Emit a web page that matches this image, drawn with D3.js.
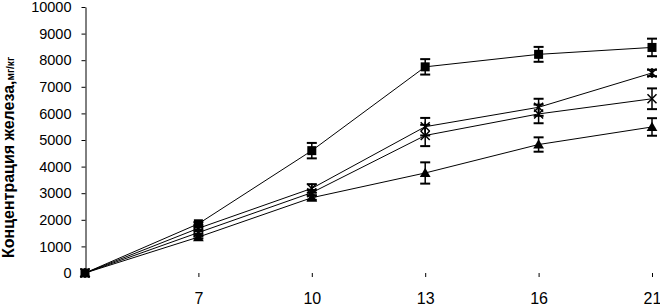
<!DOCTYPE html>
<html>
<head>
<meta charset="utf-8">
<script src="https://cdn.jsdelivr.net/npm/d3@7"></script>
<style>
  body { margin: 0; background: #fff; }
  text { font-family: "Liberation Sans", Arial, sans-serif; fill: #000; }
</style>
</head>
<body>
<div id="chart"></div>
<script>
// days (categories) and tick values
var days = ["0", "7", "10", "13", "16", "21"];
var yTicks = [0, 1000, 2000, 3000, 4000, 5000, 6000, 7000, 8000, 9000, 10000];

// series values
var squareVals = [0, 1850, 4600, 7750, 8220, 8480];
var squareErr  = [0, 60, 290, 290, 280, 330];
var starVals   = [0, 1680, 3180, 5500, 6230, 7520];
var starErr    = [0, 50, 160, 330, 320, 120];
var crossVals  = [0, 1520, 3020, 5170, 5980, 6550];
var crossErr   = [0, 50, 100, 400, 350, 390];
var triVals    = [0, 1350, 2830, 3760, 4830, 5490];
var triErr     = [0, 50, 80, 400, 270, 330];

var svgWidth = 660, svgHeight = 306;

var svg = d3.select("#chart").append("svg")
  .attr("width", svgWidth)
  .attr("height", svgHeight);

var x = d3.scalePoint().domain(days).range([85, 652]);
var y = d3.scaleLinear().domain([0, 10000]).range([273, 7]);

// y axis
var yAxis = svg.append("g")
  .attr("transform", "translate(85.5,0)")
  .call(d3.axisLeft(y).tickValues(yTicks).tickFormat(d3.format("d")).tickSize(4).tickPadding(10).tickSizeOuter(0));
yAxis.select(".domain").attr("stroke", "#000");
yAxis.selectAll(".tick line").attr("stroke", "#000");
yAxis.selectAll("text").style("font-size", "14.5px");

// x axis: no line, only short ticks and labels
var xAxis = svg.append("g")
  .attr("transform", "translate(0,273)")
  .call(d3.axisBottom(x).tickSize(4).tickPadding(16).tickFormat(function(d) { return d === "0" ? "" : d; }));
xAxis.select(".domain").remove();
xAxis.selectAll(".tick line").attr("stroke", "#000").attr("y1", 0);
xAxis.selectAll("text").style("font-size", "16px");

// y title
var title = svg.append("text")
  .attr("transform", "translate(14," + 258 + ") rotate(-90)")
  .attr("text-anchor", "start")
  .style("font-weight", "bold")
  .style("font-size", "16px");
title.append("tspan").text("Концентрация железа,");
title.append("tspan").style("font-size", "10px").text("мг/кг");

var series = [
  { vals: squareVals, err: squareErr, marker: "square" },
  { vals: starVals, err: starErr, marker: "star" },
  { vals: crossVals, err: crossErr, marker: "cross" },
  { vals: triVals, err: triErr, marker: "triangle" }
];

var line = d3.line()
  .x(function(d, i) { return x(days[i]); })
  .y(function(d) { return y(d); });

series.forEach(function(s) {
  var g = svg.append("g");

  g.append("path")
    .datum(s.vals)
    .attr("d", line)
    .attr("fill", "none")
    .attr("stroke", "#000")
    .attr("stroke-width", 1);

  // error bars
  s.vals.forEach(function(v, i) {
    if (!s.err[i]) return;
    var cx = x(days[i]);
    var y1 = y(v + s.err[i]), y2 = y(v - s.err[i]);
    g.append("line").attr("x1", cx).attr("x2", cx).attr("y1", y1).attr("y2", y2)
      .attr("stroke", "#000").attr("stroke-width", 1.5);
    [y1, y2].forEach(function(yy) {
      g.append("line").attr("x1", cx - 5).attr("x2", cx + 5).attr("y1", yy).attr("y2", yy)
        .attr("stroke", "#000").attr("stroke-width", 2);
    });
  });

  // markers
  s.vals.forEach(function(v, i) {
    var cx = x(days[i]), cy = y(v);
    if (s.marker === "square") {
      g.append("rect").attr("x", cx - 4.5).attr("y", cy - 4.5).attr("width", 9).attr("height", 9).attr("fill", "#000");
    } else if (s.marker === "triangle") {
      g.append("path").attr("d", d3.symbol(d3.symbolTriangle, 50)()).attr("transform", "translate(" + cx + "," + (cy + 1) + ")").attr("fill", "#000");
    } else if (s.marker === "cross") {
      g.append("path").attr("d", "M-4.5,-4.5L4.5,4.5M4.5,-4.5L-4.5,4.5")
        .attr("transform", "translate(" + cx + "," + cy + ")").attr("stroke", "#000").attr("stroke-width", 1.5);
    } else {
      g.append("path").attr("d", "M-4.5,-4.5L4.5,4.5M4.5,-4.5L-4.5,4.5M0,-5L0,5")
        .attr("transform", "translate(" + cx + "," + cy + ")").attr("stroke", "#000").attr("stroke-width", 1.5);
    }
  });
});
</script>
</body>
</html>
